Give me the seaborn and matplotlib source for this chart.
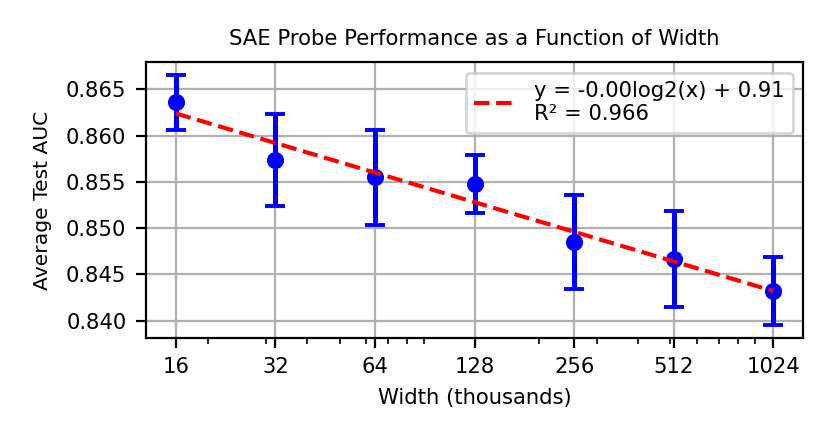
import numpy as np
import pandas as pd
import seaborn as sns
import matplotlib
matplotlib.use("Agg")
import matplotlib.pyplot as plt
from matplotlib.ticker import ScalarFormatter, NullFormatter

# width in thousands of latents, mean test AUC and error
widths = [16, 32, 64, 128, 256, 512, 1024]
auc_mean = [0.8636, 0.8574, 0.8555, 0.8548, 0.8485, 0.8467, 0.8432]
auc_err = [0.0030, 0.0050, 0.0051, 0.0031, 0.0051, 0.0052, 0.0037]

df = pd.DataFrame({"width": widths, "auc": auc_mean, "err": auc_err})

# log2 fit on raw width
lx = np.log2(df["width"] * 1000)
a, b = np.polyfit(lx, df["auc"], 1)
pred = a * lx + b
r2 = 1 - np.sum((df["auc"] - pred) ** 2) / np.sum((df["auc"] - df["auc"].mean()) ** 2)
df["fit"] = pred

fig, ax = plt.subplots(figsize=(4.145, 2.22), dpi=200)
fig.subplots_adjust(left=0.176, right=0.969, top=0.860, bottom=0.239)

ax.errorbar(df["width"], df["auc"], yerr=df["err"], fmt="none", ecolor="blue",
            elinewidth=1.8, capsize=3.6, capthick=1.4, zorder=3)
sns.scatterplot(x="width", y="auc", data=df, ax=ax, color="blue", s=38,
                edgecolor="blue", linewidth=0, zorder=4)
sns.lineplot(x="width", y="fit", data=df, ax=ax, color="red", linestyle="--",
             linewidth=1.5, label=f"y = {a:.2f}log2(x) + {b:.2f}\nR\u00b2 = {r2:.3f}",
             zorder=5)

ax.set_xscale("log")
ax.set_xticks(widths)
ax.xaxis.set_major_formatter(ScalarFormatter())
ax.xaxis.set_minor_formatter(NullFormatter())
ax.grid(True, which="major", color="#b0b0b0", linewidth=0.8)
ax.set_axisbelow(True)

fs = 7.6
ax.tick_params(labelsize=fs)
ax.set_xlabel("Width (thousands)", fontsize=fs)
ax.set_ylabel("Average Test AUC", fontsize=7.3, labelpad=5)
ax.set_title("SAE Probe Performance as a Function of Width", fontsize=fs)
ax.legend(loc="upper right", fontsize=fs)

plt.savefig("out.png", dpi=200)
